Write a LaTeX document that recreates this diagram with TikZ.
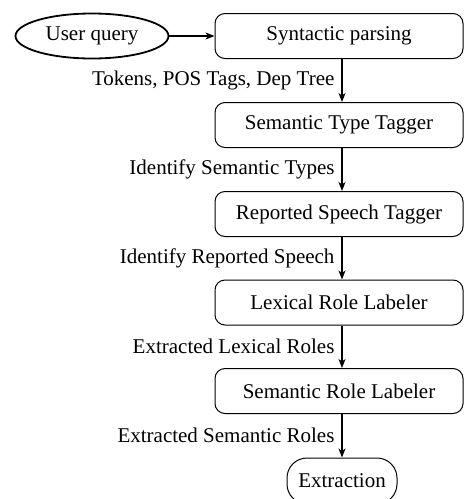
\documentclass[tikz,border=0pt]{standalone}
\usepackage{fontspec}
\setmainfont{Liberation Serif}
\usetikzlibrary{arrows.meta,shapes.geometric}
\begin{document}
\begin{tikzpicture}[x=1pt,y=-1pt,
  font=\fontsize{21}{25}\selectfont,
  stepbox/.style={draw,rectangle,rounded corners=10pt,line width=1pt,minimum width=248pt,minimum height=45pt,inner sep=0pt},
  startnode/.style={draw,ellipse,line width=1.8pt,minimum width=153pt,minimum height=45pt,inner sep=0pt},
  endnode/.style={draw,rectangle,rounded corners=20pt,line width=1pt,minimum width=110pt,minimum height=46pt,inner sep=0pt},
  flow/.style={-{Stealth[length=9pt,width=7pt,inset=2.5pt]},line width=1.1pt},
  lab/.style={left,inner sep=0pt,xshift=-7pt}]
\useasboundingbox (0,0) rectangle (464,499);
\node[startnode] (uq) at (92,36) {User query};
\node[stepbox] (b1) at (339,36) {Syntactic parsing};
\node[stepbox] (b2) at (339,125) {Semantic Type Tagger};
\node[stepbox] (b3) at (339,214) {Reported Speech Tagger};
\node[stepbox] (b4) at (339,302.5) {Lexical Role Labeler};
\node[stepbox] (b5) at (339,391) {Semantic Role Labeler};
\node[endnode] (ex) at (342,481) {Extraction};
\draw[flow] (uq) -- (b1);
\draw[flow] ([xshift=3pt]b1.south) -- node[lab] {Tokens, POS Tags, Dep Tree} ([xshift=3pt]b2.north);
\draw[flow] ([xshift=3pt]b2.south) -- node[lab] {Identify Semantic Types} ([xshift=3pt]b3.north);
\draw[flow] ([xshift=3pt]b3.south) -- node[lab] {Identify Reported Speech} ([xshift=3pt]b4.north);
\draw[flow] ([xshift=3pt]b4.south) -- node[lab] {Extracted Lexical Roles} ([xshift=3pt]b5.north);
\draw[flow] ([xshift=3pt]b5.south) -- node[lab] {Extracted Semantic Roles} (ex.north);
\end{tikzpicture}
\end{document}
